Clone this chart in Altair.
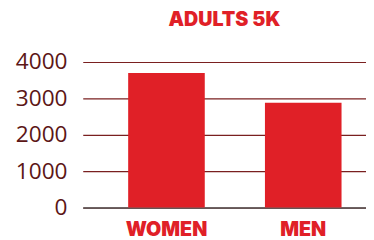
import altair as alt
import pandas as pd

categories = ["WOMEN", "MEN"]
values = [3700, 2880]
y_ticks = [0, 1000, 2000, 3000, 4000]

df = pd.DataFrame({"group": categories, "count": values})

chart = alt.Chart(df).mark_bar(color="#e02027").encode(
    x=alt.X("group:N", sort=categories,
            scale=alt.Scale(paddingInner=0.44, paddingOuter=0.2555, align=0.65),
            axis=alt.Axis(title=None, labelAngle=0, labelFont="Inter", labelFontWeight=900,
                          labelFontSize=20, labelColor="#e02027", ticks=False,
                          domainColor="#555555", domainWidth=1.5, labelPadding=12)),
    y=alt.Y("count:Q", scale=alt.Scale(domain=[0, 4000]),
            axis=alt.Axis(title=None, values=y_ticks, format="d", labelFont="Open Sans",
                          labelFontSize=23, labelColor="#5c1616", ticks=False, domain=False,
                          gridColor="#7a2020", gridWidth=1.2, labelPadding=16)),
).properties(
    width=288, height=148,
    title=alt.Title("ADULTS 5K", font="Inter", fontWeight=900, fontSize=20,
                    color="#e02027", anchor="middle", offset=22),
    autosize=alt.AutoSizeParams(type="none"),
    padding={"left": 76, "top": 53, "right": 0, "bottom": 31},
).configure_view(stroke=None)

chart.save("out.html", embed_options={"renderer": "svg", "actions": False})
